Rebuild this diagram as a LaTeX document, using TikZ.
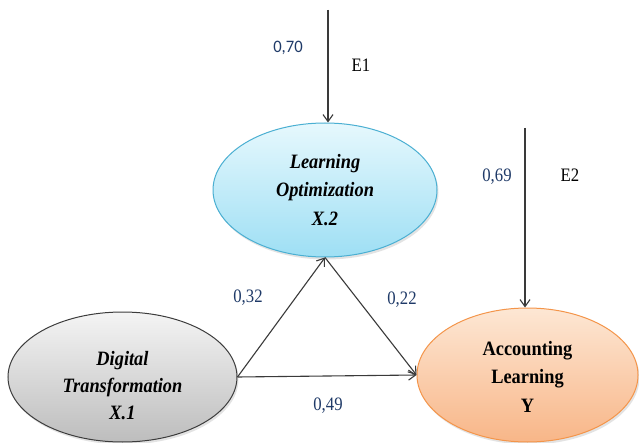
\documentclass[tikz,border=0pt]{standalone}
\usepackage{fontspec}
\setmainfont{Liberation Serif}
\newfontfamily\varfont[FakeStretch=0.9]{Liberation Serif}
\newfontfamily\coeffont[FakeStretch=0.88]{Liberation Serif}
\newfontfamily\calfont[FakeStretch=0.95]{Carlito}
\usetikzlibrary{shapes.geometric,arrows.meta,shadows}

\definecolor{coefblue}{HTML}{1F3A68}
\definecolor{linegray}{HTML}{3A3A3A}
\definecolor{lotop}{HTML}{E6F8FD}
\definecolor{lobot}{HTML}{9EDFF4}
\definecolor{lodraw}{HTML}{4AAFD2}
\definecolor{dttop}{HTML}{F4F4F4}
\definecolor{dtbot}{HTML}{BDBDBD}
\definecolor{dtdraw}{HTML}{3C3C3C}
\definecolor{altop}{HTML}{FDE7D4}
\definecolor{albot}{HTML}{F8B688}
\definecolor{aldraw}{HTML}{F4954A}

\begin{document}
\begin{tikzpicture}[x=1pt,y=-1pt,
  latent/.style={ellipse, inner sep=0pt, line width=1pt,
    drop shadow={opacity=0.22, shadow xshift=1.5pt, shadow yshift=-2.5pt}},
  lostyle/.style={latent, draw=lodraw, top color=lotop, bottom color=lobot},
  dtstyle/.style={latent, draw=dtdraw, top color=dttop, bottom color=dtbot},
  alstyle/.style={latent, draw=aldraw, top color=altop, bottom color=albot},
  vartext/.style={align=center, inner sep=0pt},
  coef/.style={anchor=base, inner sep=0pt, text=coefblue, font=\coeffont\fontsize{19}{22}\selectfont},
  errlabel/.style={anchor=base, inner sep=0pt, font=\coeffont\fontsize{19}{22}\selectfont},
  link/.style={draw=linegray, line width=1.1pt, -{Straight Barb[length=7pt,width=10pt]}}
]
  % canvas
  \fill[white] (0,0) rectangle (639,443);
  \useasboundingbox (0,0) rectangle (639,443);

  % latent variables
  \node[lostyle, minimum width=224pt, minimum height=134pt] (lo) at (325,190) {};
  \node[dtstyle, minimum width=229pt, minimum height=130pt] (dt) at (122.5,377) {};
  \node[alstyle, minimum width=221pt, minimum height=134pt] (al) at (527.5,375) {};

  \node[vartext, font=\varfont\fontsize{20.4}{28.5}\selectfont\bfseries\itshape] (lotext) at (325,190)
    {Learning\\Optimization\\X.2};
  \node[vartext, font=\varfont\fontsize{20.4}{27}\selectfont\bfseries\itshape] (dttext) at (122.5,386)
    {Digital\\Transformation\\X.1};
  \node[vartext, font=\varfont\fontsize{20.4}{28.5}\selectfont\bfseries] (altext) at (527.5,376.5)
    {Accounting\\Learning\\Y};

  % error terms
  \coordinate (e1) at (328,10);
  \coordinate (e2) at (525,128);
  \draw[link] (e1) -- (e1 |- lo.north);
  \draw[link] (e2) -- (e2 |- al.north);

  % structural paths
  \draw[link] (dt.east) -- (lo.south);
  \draw[link] (lo.south) -- (al.west);
  \draw[link] (dt.east) -- (al.west);

  % coefficients and error labels
  \node[coef, font=\calfont\fontsize{17.5}{22}\selectfont] (c70) at (288,53) {0,70};
  \node[errlabel] (le1) at (361,72) {E1};
  \node[coef] (c69) at (497,182) {0,69};
  \node[errlabel] (le2) at (570,182) {E2};
  \node[coef] (c32) at (248,302) {0,32};
  \node[coef] (c22) at (402,304) {0,22};
  \node[coef] (c49) at (328,410) {0,49};
\end{tikzpicture}
\end{document}
